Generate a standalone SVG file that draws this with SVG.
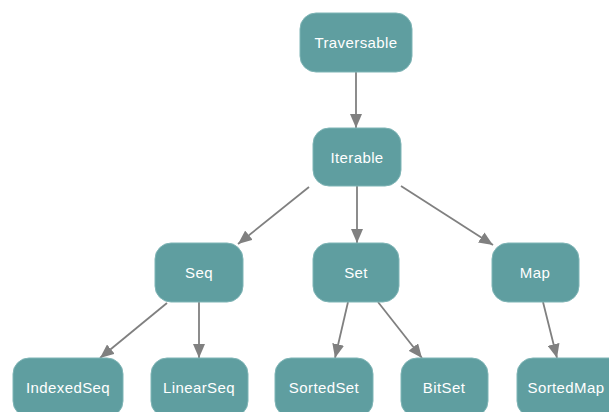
<svg xmlns="http://www.w3.org/2000/svg" width="609" height="412" viewBox="0 0 609 412">
<defs>
<style>
.n rect{fill:#5f9ea0;stroke:#7fb5b6;stroke-width:1}
.n text{fill:#ffffff;font-family:"Liberation Sans",Arial,sans-serif;font-size:15px;letter-spacing:0.4px;text-anchor:middle;dominant-baseline:central}
.e line{stroke:#808080;stroke-width:1.8;marker-end:url(#ah)}
</style>
<marker id="ah" viewBox="0 0 14 12" refX="14" refY="6" markerWidth="14" markerHeight="12" markerUnits="userSpaceOnUse" orient="auto">
<path d="M0,0 L14,6 L0,12 Z" fill="#808080"/>
</marker>
</defs>
<rect width="609" height="412" fill="#ffffff"/>
<g id="connectors" class="e">
<line x1="356" y1="72" x2="356" y2="128"/>
<line x1="309" y1="187" x2="238" y2="244"/>
<line x1="357" y1="186" x2="357" y2="243"/>
<line x1="401" y1="186" x2="493" y2="245"/>
<line x1="167" y1="303" x2="100" y2="358"/>
<line x1="199" y1="302" x2="199" y2="358"/>
<line x1="348" y1="302" x2="335" y2="358"/>
<line x1="378" y1="302" x2="422" y2="358"/>
<line x1="543" y1="302" x2="557" y2="358"/>
</g>
<g id="Traversable" class="n"><rect x="300" y="13" width="112" height="59" rx="16"/><text x="356" y="42">Traversable</text></g>
<g id="Iterable" class="n"><rect x="313" y="128" width="88" height="58" rx="16"/><text x="357" y="157">Iterable</text></g>
<g id="Seq" class="n"><rect x="155" y="243" width="88" height="59" rx="16"/><text x="199" y="272">Seq</text></g>
<g id="Set" class="n"><rect x="313" y="243" width="86" height="59" rx="16"/><text x="356" y="272">Set</text></g>
<g id="Map" class="n"><rect x="492" y="243" width="87" height="59" rx="16"/><text x="535" y="272">Map</text></g>
<g id="IndexedSeq" class="n"><rect x="13" y="358" width="110" height="59" rx="16"/><text x="68" y="387">IndexedSeq</text></g>
<g id="LinearSeq" class="n"><rect x="151" y="358" width="97" height="59" rx="16"/><text x="199" y="387">LinearSeq</text></g>
<g id="SortedSet" class="n"><rect x="275" y="358" width="98" height="59" rx="16"/><text x="324" y="387">SortedSet</text></g>
<g id="BitSet" class="n"><rect x="401" y="358" width="87" height="59" rx="16"/><text x="444" y="387">BitSet</text></g>
<g id="SortedMap" class="n"><rect x="517" y="358" width="110" height="59" rx="16"/><text x="566" y="387">SortedMap</text></g>
</svg>
